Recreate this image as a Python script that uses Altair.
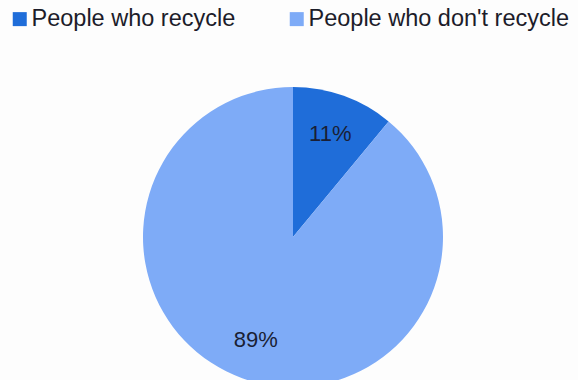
import altair as alt
import pandas as pd

categories = ["People who recycle", "People who don't recycle"]
values = [11, 89]
labels = ["11%", "89%"]
colors = ["#1f6dd9", "#7eabf7"]

df = pd.DataFrame({"category": categories, "value": values, "label": labels, "order": [0, 1]})

base = alt.Chart(df).encode(
    theta=alt.Theta("value:Q", stack=True),
    order=alt.Order("order:Q"),
)

pie = base.mark_arc(outerRadius=150, stroke=None).encode(
    color=alt.Color(
        "category:N",
        scale=alt.Scale(domain=categories, range=colors),
        legend=alt.Legend(
            title=None,
            orient="none",
            legendX=0,
            legendY=-86,
            direction="horizontal",
            symbolType="square",
            symbolSize=196,
            symbolStrokeWidth=0,
            labelFontSize=23.5,
            labelFont="Liberation Sans",
            labelColor="#1c1c2a",
            labelOffset=0,
            columnPadding=49,
            labelLimit=400,
        ),
    )
)

text = base.mark_text(radius=110, fontSize=22, font="Liberation Sans", color="#1a1f35").encode(
    text="label:N"
)

chart = (
    alt.layer(pie, text)
    .properties(
        width=570,
        height=288,
        autosize=alt.AutoSizeParams(type="none"),
        padding={"left": 8, "top": 93, "right": 0, "bottom": 0},
        background="#fdfdfd",
    )
    .configure_view(stroke=None)
)

chart.save("out.html", embed_options={"renderer": "svg", "actions": False})
